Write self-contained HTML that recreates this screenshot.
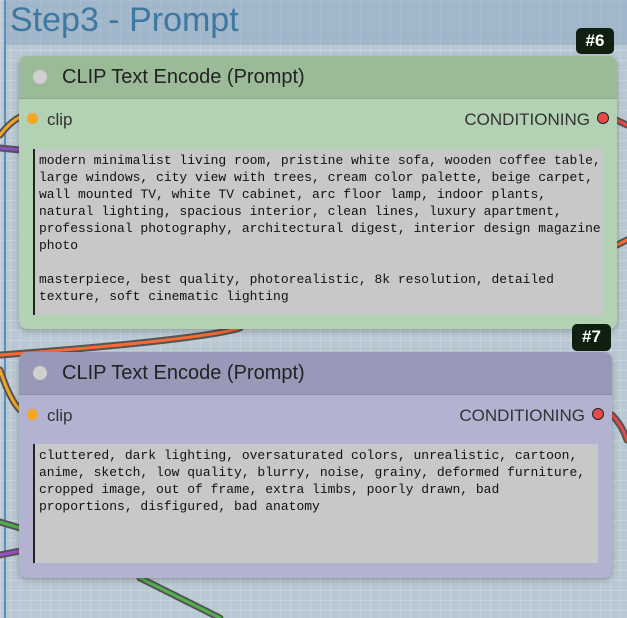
<!DOCTYPE html>
<html><head><meta charset="utf-8"><style>
body{margin:0;width:627px;height:618px;overflow:hidden;position:relative;font-family:"Liberation Sans",sans-serif;
background-color:#b9c8d3;
background-image:linear-gradient(rgba(255,255,255,.18) 1px,transparent 1px),linear-gradient(90deg,rgba(255,255,255,.18) 1px,transparent 1px);
background-size:10px 10px;}
.grp{position:absolute;left:5px;top:0;width:622px;height:45px;background:rgba(130,160,190,.45);}
.gl{position:absolute;left:4px;top:0;width:2px;height:618px;background:#5b8fb5;}
.title{position:absolute;left:10px;top:1px;font-size:34px;color:#3e78a1;}
.node{position:absolute;border-radius:8px;box-shadow:0 2px 6px rgba(0,0,0,.25);overflow:hidden}
.hd{height:42px;position:relative;font-size:20px;color:#222;}
.hd .dot{position:absolute;left:14px;top:14px;width:14px;height:14px;border-radius:50%;background:#d0d0d0}
.hd span{position:absolute;left:43px;top:10px}
.io{position:absolute;font-size:17px;color:#333}
.ta{position:absolute;background:#c8c8c8;border-left:2px solid #222;font-family:"Liberation Mono",monospace;font-size:13px;line-height:17px;color:#111;padding:3px 0 0 4px;white-space:pre;box-sizing:border-box}
.badge{position:absolute;background:#0f1f10;color:#fff;font-size:17px;font-weight:bold;border-radius:5px;text-align:center;line-height:26px}
.din{position:absolute;width:11px;height:11px;border-radius:50%;background:#f5a623}
.dout{position:absolute;width:10px;height:10px;border-radius:50%;background:#e84a4a;border:1px solid #222}
</style></head><body>
<div class="grp"></div><div class="gl"></div>
<div class="title">Step3 - Prompt</div>
<svg width="627" height="618" style="position:absolute;left:0;top:0">
<g fill="none" stroke-linecap="round">
<path d="M0 135 Q10 122 20 117" stroke="#555" stroke-width="7"/><path d="M0 135 Q10 122 20 117" stroke="#f5a623" stroke-width="3"/>
<path d="M0 148 L20 150" stroke="#555" stroke-width="7"/><path d="M0 148 L20 150" stroke="#8a4fc0" stroke-width="3"/>
<path d="M0 355 Q200 340 240 328" stroke="#555" stroke-width="7"/><path d="M0 355 Q200 340 240 328" stroke="#ff6a33" stroke-width="3"/>
<path d="M0 370 Q10 400 20 410" stroke="#555" stroke-width="7"/><path d="M0 370 Q10 400 20 410" stroke="#f5a623" stroke-width="3"/>
<path d="M0 522 L20 528" stroke="#555" stroke-width="7"/><path d="M0 522 L20 528" stroke="#50b050" stroke-width="3"/>
<path d="M0 555 L20 551" stroke="#555" stroke-width="7"/><path d="M0 555 L20 551" stroke="#a04cc0" stroke-width="3"/>
<path d="M140 578 L220 618" stroke="#555" stroke-width="7"/><path d="M140 578 L220 618" stroke="#50b050" stroke-width="3"/>
<path d="M612 118 L627 125" stroke="#555" stroke-width="7"/><path d="M612 118 L627 125" stroke="#e84a4a" stroke-width="3"/>
<path d="M612 415 Q622 425 627 440" stroke="#555" stroke-width="7"/><path d="M612 415 Q622 425 627 440" stroke="#e84a4a" stroke-width="3"/>
<path d="M617 245 L627 240" stroke="#555" stroke-width="7"/><path d="M617 245 L627 240" stroke="#ff6a33" stroke-width="3"/>
</g></svg>
<div class="badge" style="left:576px;top:28px;width:38px;height:26px">#6</div>
<div class="node" style="left:19px;top:56px;width:598px;height:273px;background:#b3d1b3">
<div class="hd" style="background:#9aba98;border-bottom:1px solid #8faa8d"><div class="dot"></div><span>CLIP Text Encode (Prompt)</span></div>
<div class="din" style="left:8px;top:57px"></div><div class="io" style="left:28px;top:54px">clip</div>
<div class="io" style="right:27px;top:54px">CONDITIONING</div><div class="dout" style="right:8px;top:56px"></div>
<div class="ta" style="left:14px;top:93px;width:570px;height:166px">modern minimalist living room, pristine white sofa, wooden coffee table,
large windows, city view with trees, cream color palette, beige carpet,
wall mounted TV, white TV cabinet, arc floor lamp, indoor plants,
natural lighting, spacious interior, clean lines, luxury apartment,
professional photography, architectural digest, interior design magazine
photo

masterpiece, best quality, photorealistic, 8k resolution, detailed
texture, soft cinematic lighting</div>
</div>
<div class="badge" style="left:572px;top:324px;width:39px;height:27px">#7</div>
<div class="node" style="left:19px;top:352px;width:593px;height:226px;background:#b3b3d1">
<div class="hd" style="background:#9898b8;border-bottom:1px solid #8a8aa8"><div class="dot"></div><span>CLIP Text Encode (Prompt)</span></div>
<div class="din" style="left:8px;top:57px"></div><div class="io" style="left:28px;top:54px">clip</div>
<div class="io" style="right:27px;top:54px">CONDITIONING</div><div class="dout" style="right:8px;top:56px"></div>
<div class="ta" style="left:14px;top:92px;width:565px;height:119px">cluttered, dark lighting, oversaturated colors, unrealistic, cartoon,
anime, sketch, low quality, blurry, noise, grainy, deformed furniture,
cropped image, out of frame, extra limbs, poorly drawn, bad
proportions, disfigured, bad anatomy</div>
</div>
</body></html>
